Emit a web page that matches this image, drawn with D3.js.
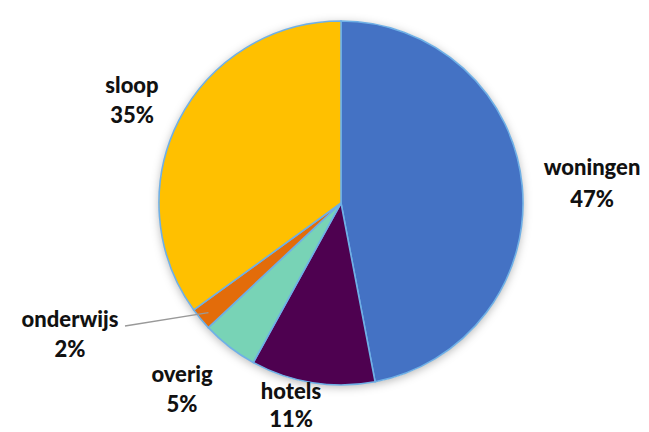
<!DOCTYPE html>
<html>
<head>
<meta charset="utf-8">
<script src="https://cdn.jsdelivr.net/npm/d3@7"></script>
<style>
  body { margin: 0; background: #fff; }
  text { font-family: Lato, "Open Sans", sans-serif; font-weight: 900; font-size: 22px; fill: #111; }
</style>
</head>
<body>
<div id="chart"></div>
<script>
const categories = ["woningen", "hotels", "overig", "onderwijs", "sloop"];
const values = [47, 11, 5, 2, 35];
const pct_labels = ["47%", "11%", "5%", "2%", "35%"];
const colors = ["#4472C4", "#4E0150", "#78D3B6", "#E36C0A", "#FFC000"];
// label anchor: x center, baseline of first line, baseline of second line
const label_pos = [[592, 175, 207], [291, 399, 427], [182, 382, 412], [70, 327, 357], [132, 93, 123]];

const width = 649, height = 432;
const cx = 341, cy = 203, radius = 182;

const svg = d3.select("#chart").append("svg")
    .attr("width", width)
    .attr("height", height);

const defs = svg.append("defs");
const shadow = defs.append("filter")
    .attr("id", "shadow")
    .attr("x", "-20%").attr("y", "-20%")
    .attr("width", "140%").attr("height", "140%");
shadow.append("feDropShadow")
    .attr("dx", 0).attr("dy", 2)
    .attr("stdDeviation", 5)
    .attr("flood-color", "#000")
    .attr("flood-opacity", 0.3);

const data = categories.map((c, i) => ({name: c, value: values[i], label: pct_labels[i], color: colors[i], pos: label_pos[i]}));

const pie = d3.pie().sort(null).value(d => d.value);
const arc = d3.arc().innerRadius(0).outerRadius(radius);

const g = svg.append("g")
    .attr("transform", "translate(" + cx + "," + cy + ")");

g.append("circle")
    .attr("r", radius)
    .attr("fill", "#fff")
    .attr("filter", "url(#shadow)");

g.selectAll("path")
    .data(pie(data))
    .join("path")
    .attr("d", arc)
    .attr("fill", d => d.data.color)
    .attr("stroke", "#6FB0E6")
    .attr("stroke-width", 1.6);

// leader line for onderwijs
const ond = pie(data)[3];
const mid = (ond.startAngle + ond.endAngle) / 2;
const r_in = radius - 10;
svg.append("line")
    .attr("x1", 125).attr("y1", 326)
    .attr("x2", cx + r_in * Math.sin(mid))
    .attr("y2", cy - r_in * Math.cos(mid))
    .attr("stroke", "#999")
    .attr("stroke-width", 1.3);

const labels = svg.selectAll(".lbl")
    .data(data)
    .join("text")
    .attr("class", "lbl")
    .attr("text-anchor", "middle");

labels.append("tspan")
    .attr("x", d => d.pos[0])
    .attr("y", d => d.pos[1])
    .text(d => d.name);
labels.append("tspan")
    .attr("x", d => d.pos[0])
    .attr("y", d => d.pos[2])
    .text(d => d.label);
</script>
</body>
</html>
